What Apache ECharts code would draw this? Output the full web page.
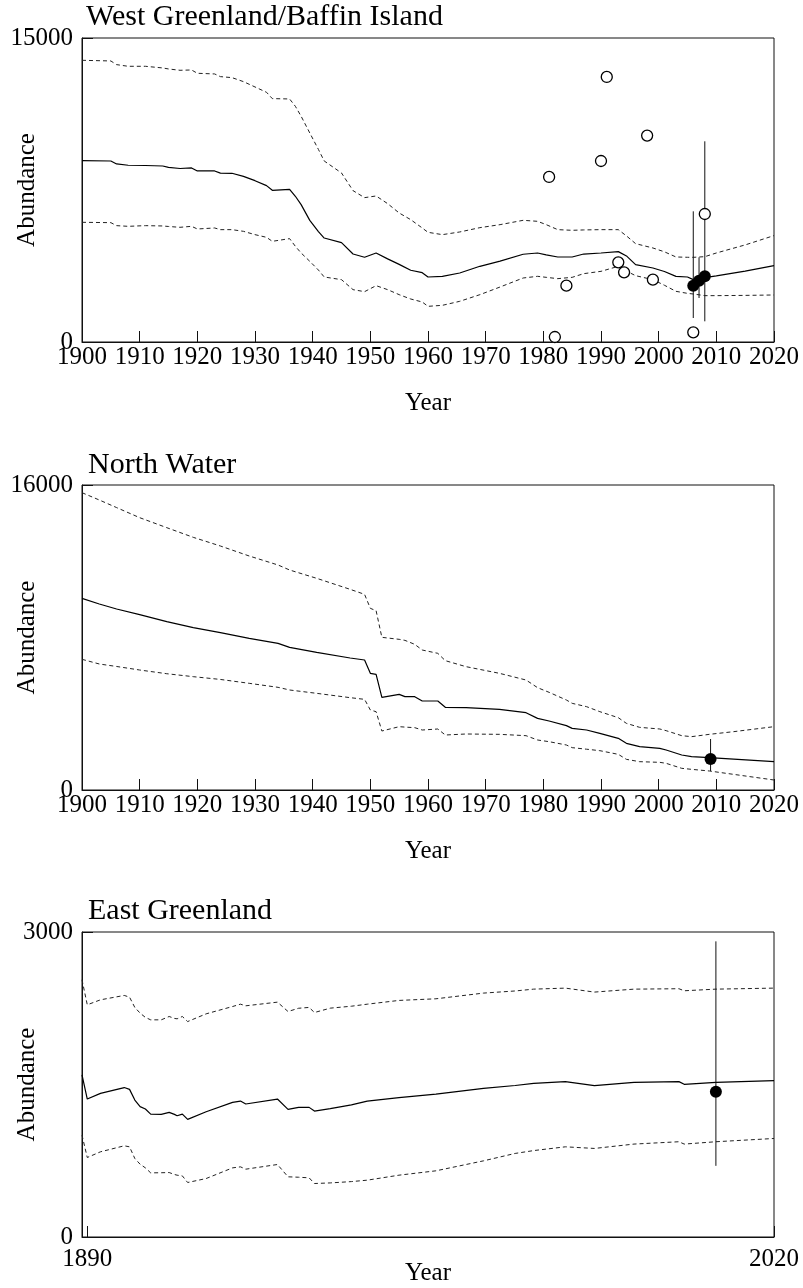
<!DOCTYPE html>
<html>
<head>
<meta charset="utf-8">
<script src="https://cdn.jsdelivr.net/npm/echarts@6/dist/echarts.min.js"></script>
<style>
html,body{margin:0;padding:0;background:#fff;}
#chart{width:803px;height:1288px;}
</style>
</head>
<body>
<div id="chart"></div>
<script>
// ---------- Panel 1: West Greenland/Baffin Island ----------
const wgYears = [1900,1905,1906,1908,1911,1914,1915,1917,1919,1920,1923,1924,1926,1928,1930,1932,1933,1936,1937,1938,1939.5,1941,1942,1945,1947,1949,1951,1953,1955,1957,1959,1960,1962.5,1965.5,1969,1972.5,1976.5,1979,1980.5,1982.5,1985,1987,1990,1993,1994.5,1996,1999,2001,2003,2005,2006,2008,2010,2015,2020];
const wgMid = [8950,8930,8785,8720,8710,8685,8620,8560,8590,8440,8440,8330,8325,8175,7960,7715,7485,7535,7190,6780,6000,5450,5130,4900,4340,4180,4390,4100,3830,3540,3420,3208,3240,3405,3735,3990,4330,4392,4300,4195,4195,4340,4392,4458,4228,3816,3652,3480,3240,3208,3076,3180,3260,3500,3767];
const wgUp = [13900,13867,13686,13604,13604,13522,13472,13407,13423,13259,13226,13094,13045,12847,12584,12321,12009,11992,11630,11137,10314,9500,8932,8340,7468,7123,7205,6827,6366,6037,5626,5412,5297,5429,5642,5790,6004,5955,5790,5544,5511,5530,5544,5544,5215,4853,4639,4450,4195,4180,4178,4210,4392,4790,5250];
const wgLo = [5906,5889,5741,5708,5741,5725,5700,5659,5708,5577,5626,5544,5544,5461,5297,5165,4968,5100,4721,4392,3981,3550,3208,3076,2583,2484,2780,2583,2336,2122,1974,1760,1810,2007,2336,2714,3158,3241,3191,3126,3191,3372,3487,3734,3487,3273,3076,2800,2500,2400,2369,2287,2287,2300,2320];
const wgOpenYears = [1981,1982,1984,1990,1991,1993,1994,1998,1999,2006,2008];
const wgOpenVals = [8143,247,2780,8932,13078,3932,3438,10183,3076,477,6317];
const wgDotYears = [2006,2007,2008];
const wgDotVals = [2780,3027,3240];
const wgErrLow = [1184,2171,1020];
const wgErrHigh = [6448,4178,9903];

// ---------- Panel 2: North Water ----------
const nwYears = [1900,1903,1906,1910,1914.7,1919.3,1924,1929,1934,1936,1940.7,1946.5,1949,1950,1951,1952,1955,1956,1957.7,1959,1961.7,1963,1966.6,1972.4,1977,1979,1981,1984,1985,1987.5,1989.8,1993,1994.4,1996.7,2000.2,2001.3,2004,2005.7,2008.8,2013,2020];
const nwMid = [10055,9757,9495,9198,8830,8516,8253,7956,7694,7484,7222,6924,6820,6120,6068,4861,5018,4896,4896,4669,4669,4337,4319,4232,4057,3759,3620,3375,3235,3147,2973,2710,2448,2273,2186,2098,1836,1749,1696,1620,1486];
const nwUp = [15597,15213,14815,14286,13762,13254,12800,12275,11803,11541,11104,10527,10264,9530,9407,8009,7904,7850,7641,7344,7169,6785,6470,6120,5770,5368,5123,4721,4546,4372,4109,3794,3497,3287,3200,3112,2850,2798,2920,3060,3322];
const nwLo = [6855,6610,6480,6295,6100,5945,5800,5596,5386,5246,5071,4844,4756,4197,4109,3095,3322,3300,3270,3147,3200,2885,2938,2920,2850,2623,2535,2361,2221,2140,2063,1871,1609,1486,1451,1399,1137,1084,997,820,525];
const nwDotYears = [2009];
const nwDotVals = [1626];
const nwErrLow = [997];
const nwErrHigh = [2675];

// ---------- Panel 3: East Greenland ----------
const egYears = [1889,1890,1892.5,1897,1898,1899,1900,1901,1902,1904,1905.5,1906.5,1907,1908,1909,1912.5,1917.5,1919,1920,1926,1928,1930,1932,1933,1936,1940,1943,1949,1956,1965,1971,1974.5,1980.5,1986,1993.5,2002,2003,2009,2020];
const egMid = [1594,1357,1413,1470,1452,1347,1282,1259,1209,1206,1226,1206,1193,1209,1157,1232,1324,1337,1308,1357,1255,1275,1275,1239,1262,1300,1337,1370,1405,1462,1490,1512,1528,1489,1521,1528,1502,1521,1538];
const egUp = [2530,2284,2333,2376,2359,2258,2202,2160,2136,2136,2169,2150,2146,2169,2119,2195,2267,2290,2274,2310,2218,2250,2258,2208,2251,2270,2290,2327,2343,2399,2420,2438,2448,2409,2438,2442,2422,2438,2448];
const egLo = [1002,782,838,897,887,772,716,680,631,632,634,615,608,601,536,575,680,690,667,713,592,588,582,526,532,545,559,608,651,749,822,850,887,871,914,937,914,937,969];
const egDotYears = [2009];
const egDotVals = [1429];
const egErrLow = [700];
const egErrHigh = [2908];

// ---------- Axis ticks / labels ----------
const titles = ['West Greenland/Baffin Island','North Water','East Greenland'];
const yMaxes = [15000,16000,3000];
const xMins = [1900,1900,1889];
const xMax = 2020;
const egXTicks = [1890,2020];

const FONT = 'Liberation Serif';
const zip = (xs, ys) => xs.map((x, i) => [x, ys[i]]);
const plain = v => String(v);

const gridTops = [38,485,932];
const gridHeights = [304,305,305];

const grids = gridTops.map((t, i) => ({
  left: 82, width: 692, top: t, height: gridHeights[i],
  containLabel: false, outerBoundsMode: 'none',
  show: true, borderColor: '#111', borderWidth: 1, backgroundColor: 'transparent'
}));

const axisLineStyle = {show: true, lineStyle: {color: '#111', width: 1}};
const tickStyle = {show: true, inside: true, length: 11, lineStyle: {color: '#111', width: 1}};
const labelStyle = {color: '#000', fontFamily: FONT, fontSize: 25, formatter: plain};
const nameStyle = {color: '#000', fontFamily: FONT, fontSize: 25};

const xAxes = [0,1,2].map(i => {
  const ax = {
    gridIndex: i, type: 'value', min: xMins[i], max: xMax,
    axisLine: axisLineStyle, axisTick: Object.assign({}, tickStyle),
    splitLine: {show: false},
    axisLabel: Object.assign({margin: 3, showMinLabel: true, showMaxLabel: true, hideOverlap: false}, labelStyle),
    name: 'Year', nameLocation: 'middle', nameGap: 49, nameMoveOverlap: false, nameTextStyle: nameStyle
  };
  if (i < 2) {
    ax.interval = 10;
  } else {
    ax.axisTick = Object.assign({customValues: egXTicks}, tickStyle);
    ax.axisLabel = Object.assign({margin: 10, customValues: egXTicks}, labelStyle);
    ax.nameGap = 24;
  }
  return ax;
});

const yAxes = [0,1,2].map(i => ({
  gridIndex: i, type: 'value', min: 0, max: yMaxes[i], interval: yMaxes[i],
  axisLine: axisLineStyle, axisTick: tickStyle, splitLine: {show: false},
  axisLabel: Object.assign({margin: 9}, labelStyle),
  name: 'Abundance', nameLocation: 'middle', nameRotate: 90, nameGap: 42, nameMoveOverlap: false, nameTextStyle: nameStyle
}));

const series = [];
function addPanel(i, years, mid, up, lo, openYears, openVals, dotYears, dotVals, errLow, errHigh) {
  const base = {xAxisIndex: i, yAxisIndex: i, showSymbol: false, symbol: 'none', animation: false, silent: true};
  series.push(Object.assign({}, base, {type: 'line', data: zip(years, up), lineStyle: {color: '#222', width: 1, type: [4, 3]}}));
  series.push(Object.assign({}, base, {type: 'line', data: zip(years, lo), lineStyle: {color: '#222', width: 1, type: [4, 3]}}));
  series.push(Object.assign({}, base, {type: 'line', data: zip(years, mid), lineStyle: {color: '#000', width: 1.2}}));
  dotYears.forEach((y, k) => {
    series.push(Object.assign({}, base, {type: 'line', data: [[y, errLow[k]], [y, errHigh[k]]], lineStyle: {color: '#111', width: 1}}));
  });
  if (openYears.length) {
    series.push({type: 'scatter', xAxisIndex: i, yAxisIndex: i, data: zip(openYears, openVals), symbol: 'circle', symbolSize: 11,
      itemStyle: {color: '#fff', borderColor: '#000', borderWidth: 1.3, opacity: 1}, z: 5, animation: false, silent: true});
  }
  series.push({type: 'scatter', xAxisIndex: i, yAxisIndex: i, data: zip(dotYears, dotVals), symbol: 'circle', symbolSize: 12,
    itemStyle: {color: '#000', opacity: 1}, z: 6, animation: false, silent: true});
}
addPanel(0, wgYears, wgMid, wgUp, wgLo, wgOpenYears, wgOpenVals, wgDotYears, wgDotVals, wgErrLow, wgErrHigh);
addPanel(1, nwYears, nwMid, nwUp, nwLo, [], [], nwDotYears, nwDotVals, nwErrLow, nwErrHigh);
addPanel(2, egYears, egMid, egUp, egLo, [], [], egDotYears, egDotVals, egErrLow, egErrHigh);

const titleTops = [2, 450, 896];
const titleLefts = [86, 88, 88];
const titleOpts = titles.map((t, i) => ({
  text: t, left: titleLefts[i], top: titleTops[i], padding: 0,
  textStyle: {color: '#000', fontFamily: FONT, fontSize: 30, fontWeight: 'normal'}
}));

const chart = echarts.init(document.getElementById('chart'), null, {renderer: 'canvas'});
chart.setOption({
  backgroundColor: '#fff',
  animation: false,
  title: titleOpts,
  grid: grids,
  xAxis: xAxes,
  yAxis: yAxes,
  series: series
});
</script>
</body>
</html>
